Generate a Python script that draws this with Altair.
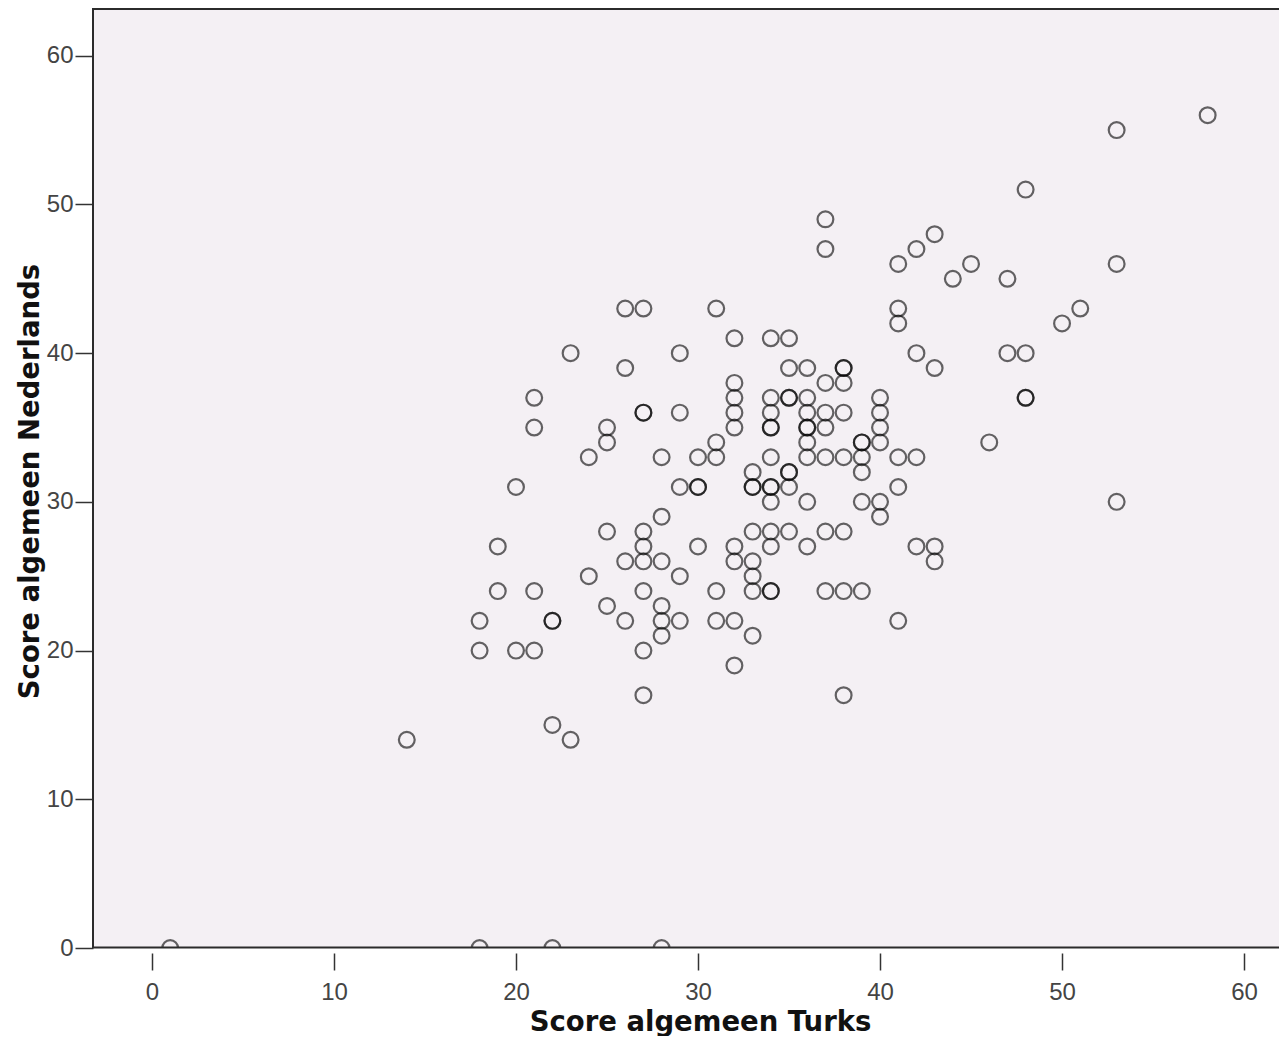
import altair as alt
import pandas as pd

# Score algemeen Turks (x) and Score algemeen Nederlands (y); repeated pairs are overlapping cases
turks = [
    1, 18, 22, 28,
    14, 22, 23,
    18, 18, 19, 19, 20, 20, 21, 21, 21, 21, 22, 22,
    23, 24, 24,
    25, 25, 25, 25,
    26, 26, 26, 26,
    27, 27, 27, 27, 27, 27, 27, 27, 27,
    28, 28, 28, 28, 28, 28,
    29, 29, 29, 29, 29,
    30, 30, 30, 30,
    31, 31, 31, 31, 31,
    32, 32, 32, 32, 32, 32, 32, 32, 32,
    33, 33, 33, 33, 33, 33, 33, 33,
    34, 34, 34, 34, 34, 34, 34, 34, 34, 34, 34, 34, 34,
    35, 35, 35, 35, 35, 35, 35, 35,
    36, 36, 36, 36, 36, 36, 36, 36, 36,
    37, 37, 37, 37, 37, 37, 37, 37,
    38, 38, 38, 38, 38, 38, 38, 38,
    39, 39, 39, 39, 39, 39,
    40, 40, 40, 40, 40, 40,
    41, 41, 41, 41, 41, 41,
    42, 42, 42, 42,
    43, 43, 43, 43,
    44, 45, 46,
    47, 47,
    48, 48, 48, 48,
    50, 51,
    53, 53, 53,
    58,
]
nederlands = [
    0, 0, 0, 0,
    14, 15, 14,
    22, 20, 27, 24, 31, 20, 20, 24, 37, 35, 22, 22,
    40, 33, 25,
    35, 34, 28, 23,
    43, 39, 26, 22,
    43, 36, 36, 28, 27, 26, 24, 20, 17,
    33, 29, 26, 23, 22, 21,
    40, 36, 31, 25, 22,
    33, 31, 31, 27,
    43, 34, 33, 24, 22,
    41, 38, 37, 36, 35, 27, 26, 22, 19,
    32, 31, 31, 28, 26, 25, 24, 21,
    41, 37, 36, 35, 35, 33, 31, 31, 30, 28, 27, 24, 24,
    41, 39, 37, 37, 32, 32, 31, 28,
    39, 37, 36, 35, 35, 34, 33, 30, 27,
    49, 47, 38, 36, 35, 33, 28, 24,
    39, 39, 38, 36, 33, 28, 24, 17,
    34, 34, 33, 32, 30, 24,
    37, 36, 35, 34, 30, 29,
    46, 43, 42, 33, 31, 22,
    47, 40, 33, 27,
    48, 39, 27, 26,
    45, 46, 34,
    45, 40,
    51, 40, 37, 37,
    42, 43,
    55, 46, 30,
    56,
]
tick_values = [0, 10, 20, 30, 40, 50, 60]

df = pd.DataFrame({"turks": turks, "nederlands": nederlands})
frame_df = pd.DataFrame({"k": [0]})

W, H = 1186, 940

x_axis = alt.Axis(
    values=tick_values, grid=False, domain=False, offset=5,
    tickSize=17, tickWidth=1.5, tickColor="#333333",
    labelFont="Liberation Sans", labelFontSize=24, labelColor="#444444",
    labelPadding=10, labelFlush=False, labelOverlap=False,
    title="Score algemeen Turks", titleFont="DejaVu Sans", titleFontSize=27.5,
    titleFontWeight="bold", titleColor="#111111",
    titleX=607, titleY=77, titleAlign="center", titleBaseline="alphabetic",
)
y_axis = alt.Axis(
    values=tick_values, grid=False, domain=False,
    tickSize=18, tickWidth=1.5, tickColor="#333333",
    labelFont="Liberation Sans", labelFontSize=24, labelColor="#444444",
    labelPadding=2, labelFlush=False, labelOverlap=False, labelBaseline="middle",
    title="Score algemeen Nederlands", titleFont="DejaVu Sans", titleFontSize=27.5,
    titleFontWeight="bold", titleColor="#111111", titleAngle=270,
    titleX=-55, titleY=473, titleAlign="center", titleBaseline="alphabetic",
)

points = (
    alt.Chart(df)
    .mark_point(shape="circle", filled=False, size=250, strokeWidth=2.2,
                color="#000000", strokeOpacity=0.85, clip=True)
    .encode(
        x=alt.X("turks:Q", scale=alt.Scale(domain=[-3.24, 61.92], zero=False, nice=False), axis=x_axis),
        y=alt.Y("nederlands:Q", scale=alt.Scale(domain=[0, 63.21], zero=False, nice=False), axis=y_axis),
    )
)

frame_color = "#2b2b2b"
top_line = alt.Chart(frame_df).mark_rule(color=frame_color, strokeWidth=2).encode(
    x=alt.value(0), x2=alt.value(W), y=alt.value(1))
left_line = alt.Chart(frame_df).mark_rule(color=frame_color, strokeWidth=2).encode(
    x=alt.value(0), y=alt.value(0), y2=alt.value(H))
bottom_line = alt.Chart(frame_df).mark_rule(color=frame_color, strokeWidth=2).encode(
    x=alt.value(0), x2=alt.value(W), y=alt.value(H - 0.5))

chart = (
    alt.layer(points, top_line, left_line, bottom_line)
    .properties(
        width=W, height=H,
        autosize=alt.AutoSizeParams(type="none"),
        padding={"left": 85, "top": 0, "right": 0, "bottom": 88},
        background="white",
    )
    .configure_view(fill="#F4F0F4", stroke="transparent", strokeWidth=0)
)

chart.save("out.html", embed_options={"renderer": "svg", "actions": False})
